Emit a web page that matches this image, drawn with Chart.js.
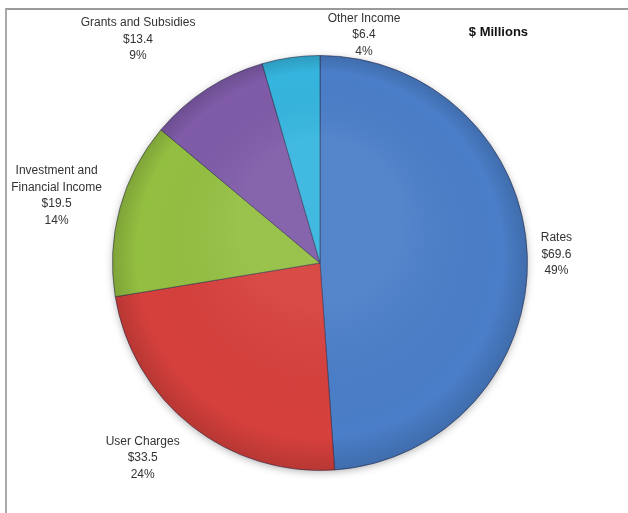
<!DOCTYPE html>
<html>
<head>
<meta charset="utf-8">
<title>Income sources</title>
<script src="https://cdn.jsdelivr.net/npm/chart.js@4.4.0/dist/chart.umd.min.js"></script>
<style>
  html, body { margin: 0; padding: 0; background: #fff; }
  #wrap { position: relative; width: 628px; height: 513px; overflow: hidden; }
  #frame {
    position: absolute; left: 5px; top: 8px; width: 700px; height: 600px;
    border-top: 2px solid #9a9a9a; border-left: 2px solid #aaaaaa;
  }
  #income-pie { position: absolute; left: 0; top: 0; }
</style>
</head>
<body>
<div id="wrap">
  <div id="frame"></div>
  <canvas id="income-pie" width="628" height="513"></canvas>
</div>
<script>
const categories = ['Rates', 'User Charges', 'Investment and\nFinancial Income', 'Grants and Subsidies', 'Other Income'];
const amounts = [69.6, 33.5, 19.5, 13.4, 6.4];
const sliceColors = ['#4a7ec8', '#d6403c', '#93bf41', '#7f5ba8', '#35b5de'];

// where each label sits: multiple of the radius, and a nudge in degrees off the slice middle
const labelPlacement = [
  { reach: 1.14, nudge: 0 },
  { reach: 1.27, nudge: 4 },
  { reach: 1.31, nudge: -1 },
  { reach: 1.39, nudge: -6 },
  { reach: 1.12, nudge: 19 }
];

const total = amounts.reduce((a, b) => a + b, 0);
const shares = amounts.map(v => Math.round(v / total * 100));

const pieShadow = {
  id: 'pie-shadow',
  beforeDatasetsDraw(chart) {
    const arc = chart.getDatasetMeta(0).data[0];
    if (!arc) return;
    const { x, y, outerRadius } = arc.getProps(['x', 'y', 'outerRadius'], true);
    const ctx = chart.ctx;
    ctx.save();
    ctx.shadowColor = 'rgba(0,0,0,0.35)';
    ctx.shadowBlur = 8;
    ctx.shadowOffsetY = 2;
    ctx.beginPath();
    ctx.arc(x, y, outerRadius - 1, 0, Math.PI * 2);
    ctx.fillStyle = '#fff';
    ctx.fill();
    ctx.restore();
  },
  afterDatasetsDraw(chart) {
    // darken toward the rim a little
    const arc = chart.getDatasetMeta(0).data[0];
    if (!arc) return;
    const { x, y, outerRadius } = arc.getProps(['x', 'y', 'outerRadius'], true);
    const ctx = chart.ctx;
    ctx.save();
    const g = ctx.createRadialGradient(x, y - outerRadius * 0.2, outerRadius * 0.4, x, y, outerRadius);
    g.addColorStop(0, 'rgba(255,255,255,0.06)');
    g.addColorStop(0.8, 'rgba(0,0,0,0)');
    g.addColorStop(1, 'rgba(0,0,0,0.14)');
    ctx.beginPath();
    ctx.arc(x, y, outerRadius, 0, Math.PI * 2);
    ctx.fillStyle = g;
    ctx.fill();
    ctx.restore();
  }
};

const sliceLabels = {
  id: 'slice-labels',
  afterDraw(chart) {
    const { ctx } = chart;
    const arcs = chart.getDatasetMeta(0).data;
    ctx.save();
    ctx.font = '12px "Liberation Sans", Arial, sans-serif';
    ctx.fillStyle = '#333';
    ctx.textAlign = 'center';
    ctx.textBaseline = 'middle';
    const lh = 16.5;
    let cx0 = 0, cy0 = 0, rad = 0;
    arcs.forEach((arc, i) => {
      const { x, y, startAngle, endAngle, outerRadius } =
        arc.getProps(['x', 'y', 'startAngle', 'endAngle', 'outerRadius'], true);
      cx0 = x; cy0 = y; rad = outerRadius;
      const place = labelPlacement[i];
      const mid = (startAngle + endAngle) / 2 + place.nudge * Math.PI / 180;
      const r = outerRadius * place.reach;
      const cx = x + Math.cos(mid) * r;
      const cy = y + Math.sin(mid) * r;
      const lines = categories[i].split('\n').concat(['$' + amounts[i].toFixed(1), shares[i] + '%']);
      lines.forEach((t, k) => ctx.fillText(t, cx, cy + (k - (lines.length - 1) / 2) * lh));
    });
    ctx.font = 'bold 13px "Liberation Sans", Arial, sans-serif';
    ctx.fillStyle = '#111';
    ctx.fillText('$ Millions', cx0 + rad * 0.86, cy0 - rad * 1.11);
    ctx.restore();
  }
};

new Chart(document.getElementById('income-pie'), {
  type: 'pie',
  data: {
    labels: categories,
    datasets: [{
      data: amounts,
      backgroundColor: sliceColors,
      borderColor: 'rgba(40,40,70,0.55)',
      borderWidth: 1
    }]
  },
  options: {
    responsive: false,
    animation: false,
    layout: { padding: { left: 112, right: 100, top: 55, bottom: 42 } },
    plugins: {
      legend: { display: false },
      tooltip: { enabled: false }
    }
  },
  plugins: [pieShadow, sliceLabels]
});
</script>
</body>
</html>
